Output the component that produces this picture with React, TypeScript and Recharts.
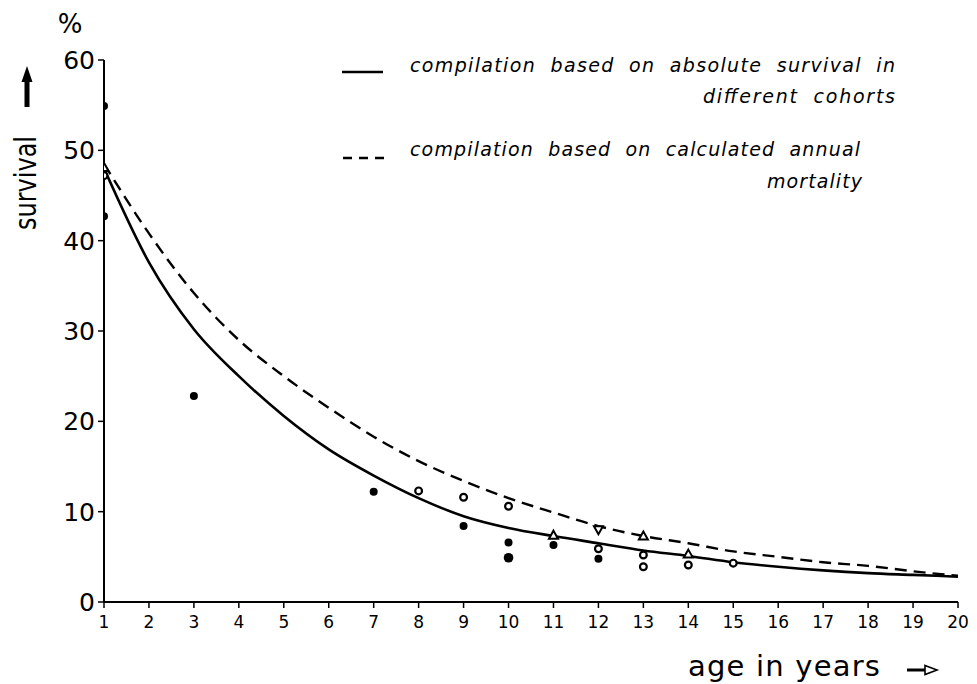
import React from 'react';
import { ComposedChart, Line, Scatter, XAxis, YAxis } from 'recharts';

// --- data ---
const xTicks = [1, 2, 3, 4, 5, 6, 7, 8, 9, 10, 11, 12, 13, 14, 15, 16, 17, 18, 19, 20];
const yTicks = [0, 10, 20, 30, 40, 50, 60];

const solidAges = [1, 2, 3, 4, 5, 6, 7, 8, 9, 10, 11, 12, 13, 14, 15, 16, 17, 18, 19, 20];
const solidSurvival = [48, 37.6, 30.2, 25.0, 20.6, 16.9, 14.0, 11.5, 9.5, 8.2, 7.3, 6.5, 5.7, 5.1, 4.4, 3.9, 3.5, 3.2, 3.0, 2.8];

const dashedAges = [1, 2, 3, 4, 5, 6, 7, 8, 9, 10, 11, 12, 13, 14, 15, 16, 17, 18, 19, 20];
const dashedSurvival = [48.5, 40.8, 34.2, 29.0, 25.0, 21.5, 18.3, 15.6, 13.4, 11.5, 9.9, 8.4, 7.3, 6.5, 5.6, 5.0, 4.4, 4.0, 3.4, 2.9];

const filledAges = [1, 1, 3, 7, 9, 10, 11, 12];
const filledSurvival = [54.9, 42.7, 22.8, 12.2, 8.4, 6.6, 6.3, 4.8];

const bigFilledAges = [10];
const bigFilledSurvival = [4.9];

const openAges = [1, 8, 9, 10, 12, 13, 13, 14, 15];
const openSurvival = [47.2, 12.3, 11.6, 10.6, 5.9, 5.2, 3.9, 4.1, 4.3];

const triangleAges = [1, 11, 13, 14];
const triangleSurvival = [48.1, 7.4, 7.3, 5.3];

const invTriangleAges = [12];
const invTriangleSurvival = [8.0];

const legendLines = [
  'compilation based on absolute survival in',
  'different cohorts',
  'compilation based on calculated annual',
  'mortality',
];

const zip = (xs: number[], ys: number[]) => xs.map((x, i) => ({ x, y: ys[i] }));

const solidData = zip(solidAges, solidSurvival);
const dashedData = zip(dashedAges, dashedSurvival);
const filledData = zip(filledAges, filledSurvival);
const bigFilledData = zip(bigFilledAges, bigFilledSurvival);
const openData = zip(openAges, openSurvival);
const triangleData = zip(triangleAges, triangleSurvival);
const invTriangleData = zip(invTriangleAges, invTriangleSurvival);

const FONT = '"DejaVu Sans", sans-serif';

const FilledDot = (props: any) => <circle cx={props.cx} cy={props.cy} r={4} fill="#000" />;
const BigFilledDot = (props: any) => <circle cx={props.cx} cy={props.cy} r={4.8} fill="#000" />;
const OpenDot = (props: any) => (
  <circle cx={props.cx} cy={props.cy} r={3.4} fill="#fff" stroke="#000" strokeWidth={2.2} />
);
const TriDot = (props: any) => {
  const { cx, cy } = props;
  return (
    <path
      d={`M${cx},${cy - 4.5} L${cx + 4.5},${cy + 3.5} L${cx - 4.5},${cy + 3.5} Z`}
      fill="#fff"
      stroke="#000"
      strokeWidth={2}
    />
  );
};
const InvTriDot = (props: any) => {
  const { cx, cy } = props;
  return (
    <path
      d={`M${cx - 4.5},${cy - 3.5} L${cx + 4.5},${cy - 3.5} L${cx},${cy + 4.5} Z`}
      fill="#fff"
      stroke="#000"
      strokeWidth={2}
    />
  );
};

const legendText = {
  fontSize: 19,
  fontStyle: 'italic' as const,
  fontFamily: FONT,
  fill: '#000',
  wordSpacing: 7,
};

export default function App() {
  return (
    <div style={{ position: 'absolute', left: 0, top: 0, width: 977, height: 684, background: '#fff' }}>
      <ComposedChart
        width={977}
        height={684}
        margin={{ top: 60, right: 19, bottom: 42, left: 0 }}
        style={{ position: 'absolute', left: 0, top: 0 }}
      >
        <XAxis
          type="number"
          dataKey="x"
          domain={[1, 20]}
          ticks={xTicks}
          interval={0}
          height={40}
          axisLine={{ stroke: '#000', strokeWidth: 2 }}
          tickLine={{ stroke: '#000', strokeWidth: 1.5 }}
          tickSize={6}
          tickMargin={8}
          tick={{ fill: '#000', fontSize: 17, fontFamily: FONT }}
          allowDataOverflow
        />
        <YAxis
          type="number"
          dataKey="y"
          domain={[0, 60]}
          ticks={yTicks}
          interval={0}
          width={104}
          axisLine={{ stroke: '#000', strokeWidth: 2 }}
          tickLine={{ stroke: '#000', strokeWidth: 1.5 }}
          tickSize={6}
          tickMargin={3}
          tick={{ fill: '#000', fontSize: 25, fontFamily: FONT }}
          allowDataOverflow
        />
        <Line
          data={solidData}
          dataKey="y"
          type="monotone"
          stroke="#000"
          strokeWidth={2.6}
          dot={false}
          activeDot={false}
          isAnimationActive={false}
        />
        <Line
          data={dashedData}
          dataKey="y"
          type="monotone"
          stroke="#000"
          strokeWidth={2.4}
          strokeDasharray="12 7"
          dot={false}
          activeDot={false}
          isAnimationActive={false}
        />
        <Scatter data={filledData} dataKey="y" shape={FilledDot} isAnimationActive={false} />
        <Scatter data={bigFilledData} dataKey="y" shape={BigFilledDot} isAnimationActive={false} />
        <Scatter data={openData} dataKey="y" shape={OpenDot} isAnimationActive={false} />
        <Scatter data={triangleData} dataKey="y" shape={TriDot} isAnimationActive={false} />
        <Scatter data={invTriangleData} dataKey="y" shape={InvTriDot} isAnimationActive={false} />
      </ComposedChart>
      <svg
        width={977}
        height={684}
        style={{ position: 'absolute', left: 0, top: 0, pointerEvents: 'none' }}
      >
        {/* y-axis title */}
        <text x={70} y={33} textAnchor="middle" fontSize={26} fontFamily={FONT} fill="#000">
          %
        </text>
        <path d="M27,66 L32.5,82 L29.5,82 L29.5,107 L24.5,107 L24.5,82 L21.5,82 Z" fill="#000" />
        <text
          transform="translate(36,183) rotate(-90) scale(0.8,1)"
          textAnchor="middle"
          fontSize={30}
          fontFamily={FONT}
          fill="#000"
        >
          survival
        </text>
        {/* x-axis title */}
        <text x={688} y={676} fontSize={29} letterSpacing={1.2} fontFamily={FONT} fill="#000">
          age in years
        </text>
        <path d="M907,668.5 L925,668.5 L925,671.5 L907,671.5 Z" fill="#000" />
        <path d="M925,665.5 L937,670 L925,674.5 Z" fill="#fff" stroke="#000" strokeWidth={1.6} />
        {/* legend */}
        <line x1={342} y1={72} x2={383} y2={72} stroke="#000" strokeWidth={2.6} />
        <line x1={343} y1={158} x2={384} y2={158} stroke="#000" strokeWidth={2.6} strokeDasharray="9 7" />
        <text x={410} y={72} textLength={485} lengthAdjust="spacing" {...legendText}>
          {legendLines[0]}
        </text>
        <text x={703} y={103} textLength={192} lengthAdjust="spacing" {...legendText}>
          {legendLines[1]}
        </text>
        <text x={410} y={156} textLength={450} lengthAdjust="spacing" {...legendText}>
          {legendLines[2]}
        </text>
        <text x={767} y={188} textLength={95} lengthAdjust="spacing" {...legendText}>
          {legendLines[3]}
        </text>
      </svg>
    </div>
  );
}
